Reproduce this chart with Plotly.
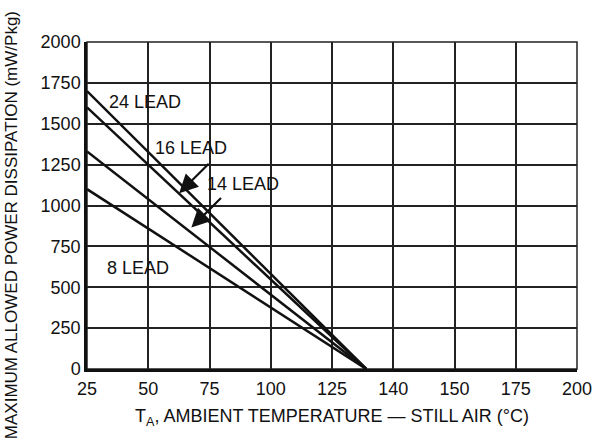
import plotly.graph_objects as go

# Package power derating: allowed dissipation falls linearly from 25 °C to zero
packages = ["24 LEAD", "16 LEAD", "14 LEAD", "8 LEAD"]
power_at_25c = [1700, 1600, 1330, 1100]      # mW/Pkg at T_A = 25 °C
temp_start = 25
temp_zero = 139                               # axis position where dissipation reaches 0

# x axis: evenly spaced ticks carrying these labels
x_tickvals = [25, 50, 75, 100, 125, 150, 175, 200, 225]
x_ticktext = ["25", "50", "75", "100", "125", "140", "150", "175", "200"]
y_tickvals = [0, 250, 500, 750, 1000, 1250, 1500, 1750, 2000]

FONT = "Liberation Sans, Arial, Helvetica, sans-serif"
INK = "#111111"
GRID = "#222222"

fig = go.Figure()
for name, p in zip(packages, power_at_25c):
    fig.add_trace(go.Scatter(
        x=[temp_start, temp_zero], y=[p, 0], mode="lines", name=name,
        line=dict(color=INK, width=2.5), showlegend=False,
    ))

# curve labels
labels = [
    ("24 LEAD", 48.5, 1635),
    ("16 LEAD", 67.5, 1350),
    ("14 LEAD", 88.5, 1130),
    ("8 LEAD", 46, 620),
]
for text, x, y in labels:
    fig.add_annotation(x=x, y=y, text=text, showarrow=False,
                       font=dict(family=FONT, size=18, color=INK))

# leader arrows: tip on the curve, tail near the label
arrows = [
    (62.6, 1075, 75.3, 1265),   # 16 LEAD
    (67.6, 865, 80.3, 1055),    # 14 LEAD
]
for x, y, ax, ay in arrows:
    fig.add_annotation(x=x, y=y, ax=ax, ay=ay, xref="x", yref="y",
                       axref="x", ayref="y", text="", showarrow=True,
                       arrowhead=2, arrowsize=1.7, arrowwidth=2.2,
                       arrowcolor=INK)

# y axis title
fig.add_annotation(
    xref="paper", yref="paper", x=-0.155, y=0.44,
    text="MAXIMUM ALLOWED POWER DISSIPATION (mW/Pkg)",
    textangle=-90, showarrow=False, xanchor="center", yanchor="middle",
    font=dict(family=FONT, size=17, color=INK),
)

# thin frame on the top and right edges of the plot area
fig.add_shape(type="rect", xref="paper", yref="paper", x0=0, y0=0, x1=1, y1=1,
              line=dict(color=GRID, width=1.5), layer="below")

fig.update_layout(
    width=592, height=440,
    margin=dict(l=87, r=15, t=42, b=71),
    paper_bgcolor="white", plot_bgcolor="white",
    font=dict(family=FONT, size=18, color=INK),
)
fig.update_xaxes(
    range=[25, 225], tickmode="array", tickvals=x_tickvals, ticktext=x_ticktext,
    showgrid=True, gridcolor=GRID, gridwidth=1.5,
    showline=True, linecolor=INK, linewidth=2.5, zeroline=False,
    ticks="", ticklabelstandoff=2, ticklabeloverflow="allow",
    title=dict(text="T<sub>A</sub>, AMBIENT TEMPERATURE — STILL AIR (°C)",
               font=dict(family=FONT, size=18, color=INK), standoff=12),
    automargin=False,
)
fig.update_yaxes(
    range=[0, 2000], tickmode="array", tickvals=y_tickvals,
    showgrid=True, gridcolor=GRID, gridwidth=1.5,
    showline=True, linecolor=INK, linewidth=2.5, zeroline=False,
    ticks="", automargin=False,
)

fig.write_html("out.html")
